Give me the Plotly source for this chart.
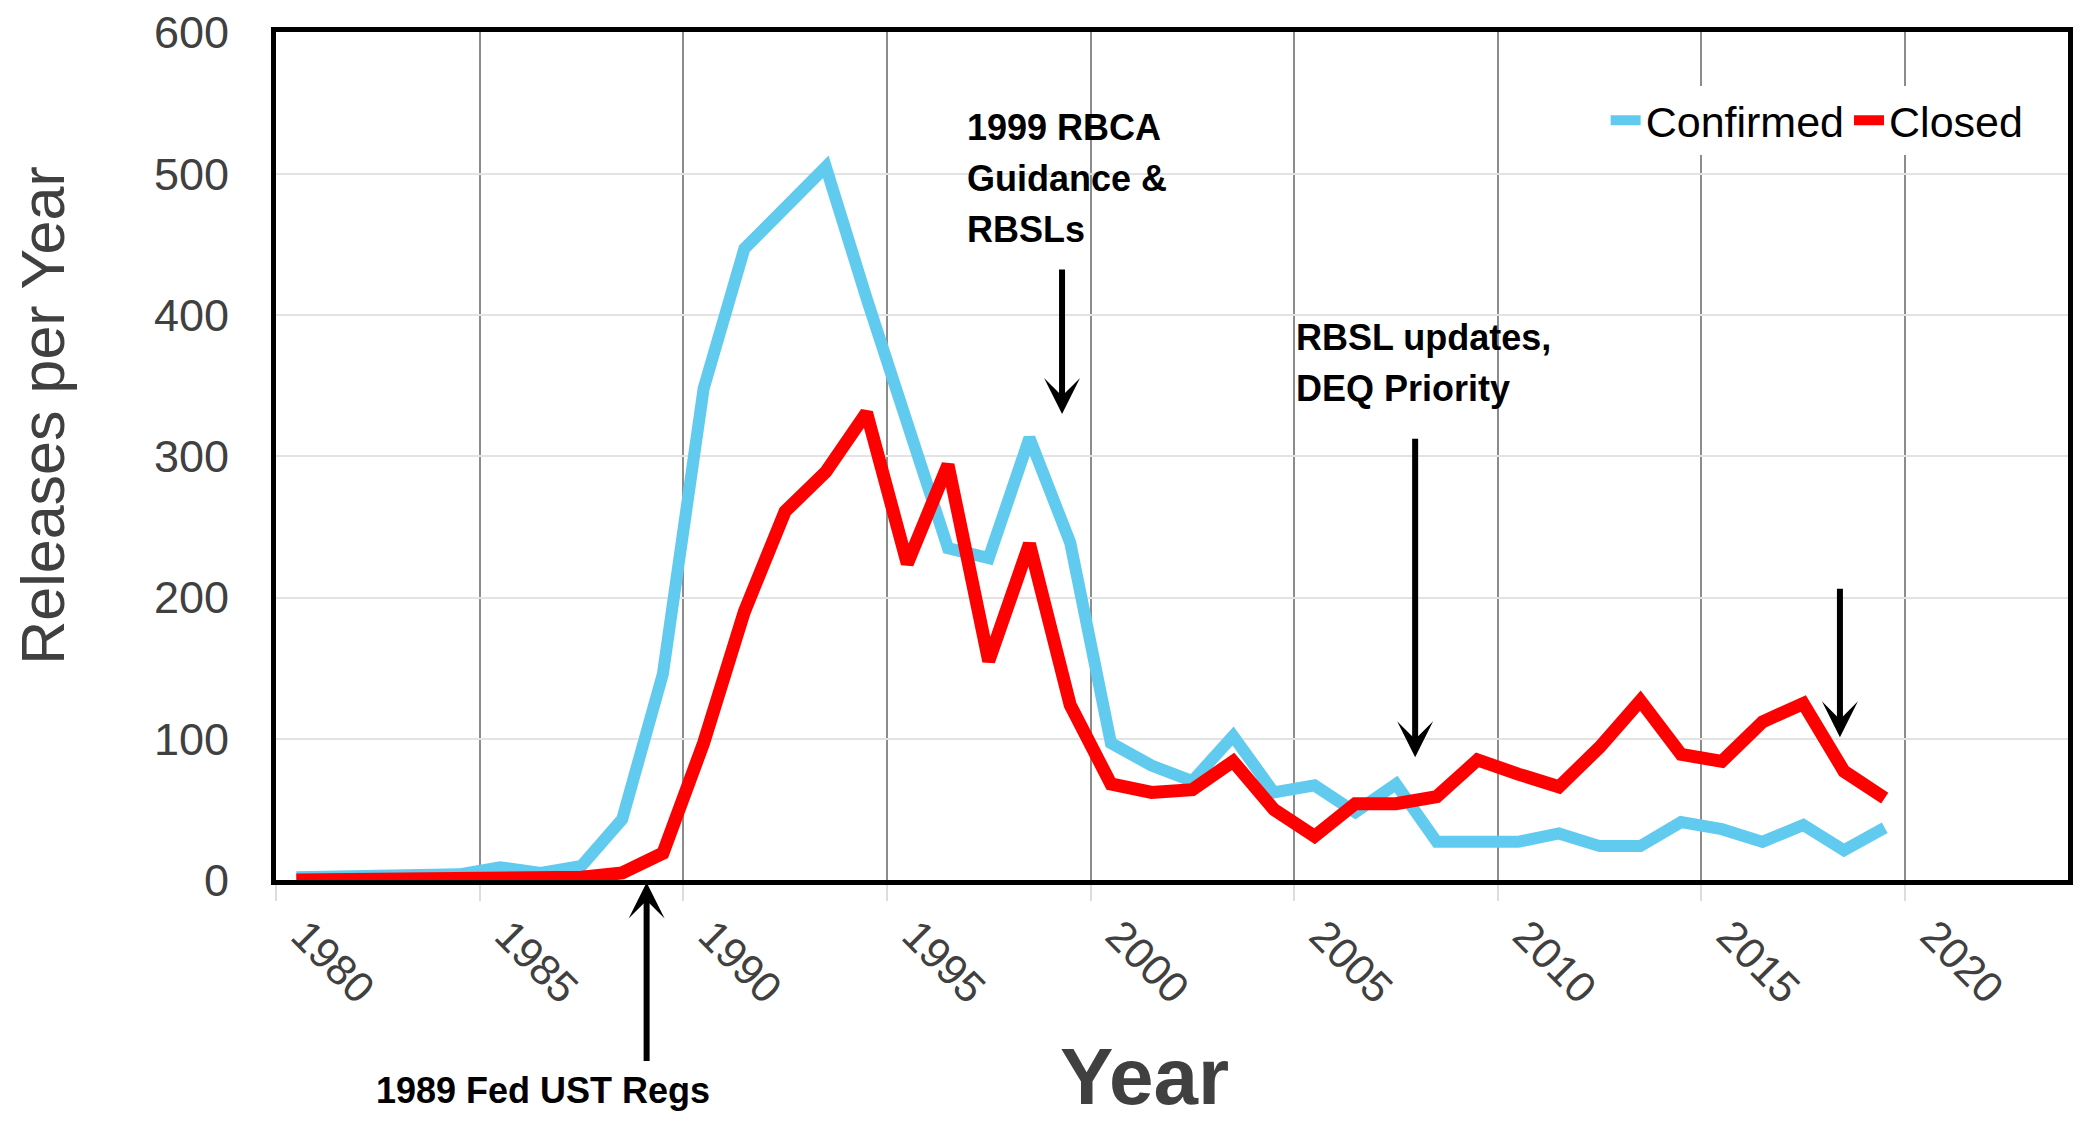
import plotly.graph_objects as go

# ---------------- data ----------------
years = list(range(1980, 2020))
confirmed = [2, 2, 3, 3, 4, 9, 5, 10, 43, 146,
             348, 447, 476, 505, 412, 322, 235, 228, 313, 239,
             97, 81, 70, 102, 62, 67, 48, 68, 27, 27,
             27, 33, 24, 24, 41, 36, 27, 39, 21, 37]
closed = [0, 0, 0, 0, 1, 2, 1, 2, 5, 19,
          97, 190, 261, 289, 331, 224, 294, 155, 238, 124,
          68, 62, 64, 84, 50, 31, 54, 54, 59, 85,
          75, 66, 94, 127, 89, 84, 112, 125, 77, 58]
tick_years = [1980, 1985, 1990, 1995, 2000, 2005, 2010, 2015, 2020]
tick_labels = [str(y) for y in tick_years]
y_ticks = [0, 100, 200, 300, 400, 500, 600]

rbca_lines = ["1999 RBCA", "Guidance &amp;", "RBSLs"]
rbsl_lines = ["RBSL updates,", "DEQ Priority"]

# yearly values are plotted at mid-year
x_mid = [y + 0.5 for y in years]

FONT = "Liberation Sans, Arial, sans-serif"
GRAY = "#404040"


def f(size, color, weight="normal"):
    return dict(family=FONT, size=size, color=color, weight=weight)


fig = go.Figure()
fig.add_trace(go.Scatter(x=x_mid, y=confirmed, mode="lines", name="Confirmed",
                         line=dict(color="#61CBEF", width=12)))
fig.add_trace(go.Scatter(x=x_mid, y=closed, mode="lines", name="Closed",
                         line=dict(color="#FF0000", width=13)))

fig.update_layout(
    width=2080, height=1124,
    margin=dict(l=276, r=7, t=27, b=244),
    plot_bgcolor="white", paper_bgcolor="white",
    showlegend=True,
    legend=dict(orientation="h", x=0.742, xanchor="left", y=0.896, yanchor="middle",
                bgcolor="white", font=f(43, "black"),
                traceorder="normal", itemwidth=30),
)
fig.update_xaxes(range=[1980, 2024], tickvals=tick_years, ticktext=tick_labels,
                 tickangle=45, showgrid=True, gridcolor="#8c8c8c", gridwidth=2,
                 showline=True, linecolor="black", linewidth=5, mirror=True,
                 ticks="outside", ticklen=16, tickcolor="#dddddd", tickwidth=2,
                 ticklabelshift=28, ticklabelstandoff=-8,
                 tickfont=f(43, GRAY), zeroline=False)
fig.update_yaxes(range=[0, 600.5], tickvals=y_ticks, showgrid=True, gridcolor="#e3e3e3",
                 gridwidth=2, showline=True, linecolor="black", linewidth=5, mirror=True,
                 ticks="", tickfont=f(45, GRAY),
                 ticklabelstandoff=33, zeroline=False)

bold = f(36, "black", "bold")
LINE_STEP = 36  # data units between annotation text lines (about 51 px)

# text annotations, one per line
for i, line in enumerate(rbca_lines):
    fig.add_annotation(x=1996.92, y=533 - i * LINE_STEP, xref="x", yref="y",
                       xanchor="left", yanchor="middle", showarrow=False,
                       font=bold, text=line)
for i, line in enumerate(rbsl_lines):
    fig.add_annotation(x=2005.0, y=384 - i * LINE_STEP, xref="x", yref="y",
                       xanchor="left", yanchor="middle", showarrow=False,
                       font=bold, text=line)
fig.add_annotation(x=1986.56, y=-0.248, xref="x", yref="paper", xanchor="center",
                   yanchor="middle", showarrow=False, font=bold, text="1989 Fed UST Regs")

# arrows
arrow = dict(showarrow=True, arrowhead=3, arrowwidth=6, arrowsize=1.0,
             arrowcolor="black", text="")
fig.add_annotation(x=1999.3, y=330, xref="x", yref="y", ax=0, ay=-146, **arrow)
fig.add_annotation(x=2007.97, y=87, xref="x", yref="y", ax=0, ay=-320, **arrow)
fig.add_annotation(x=2018.4, y=101, xref="x", yref="y", ax=0, ay=-150, **arrow)
fig.add_annotation(x=1989.1, y=-0.003, xref="x", yref="paper", ax=0, ay=180, **arrow)

# axis titles
fig.add_annotation(x=2001.33, y=-0.232, xref="x", yref="paper", showarrow=False,
                   xanchor="center", yanchor="middle", text="Year",
                   font=f(80, GRAY, "bold"))
fig.add_annotation(x=-0.13, y=0.5475, xref="paper", yref="paper", showarrow=False,
                   textangle=-90, xanchor="center", yanchor="middle",
                   text="Releases per Year", font=f(61, GRAY))

fig.write_html("out.html", config={"displayModeBar": False},
               post_script="document.body.style.margin='0';")
